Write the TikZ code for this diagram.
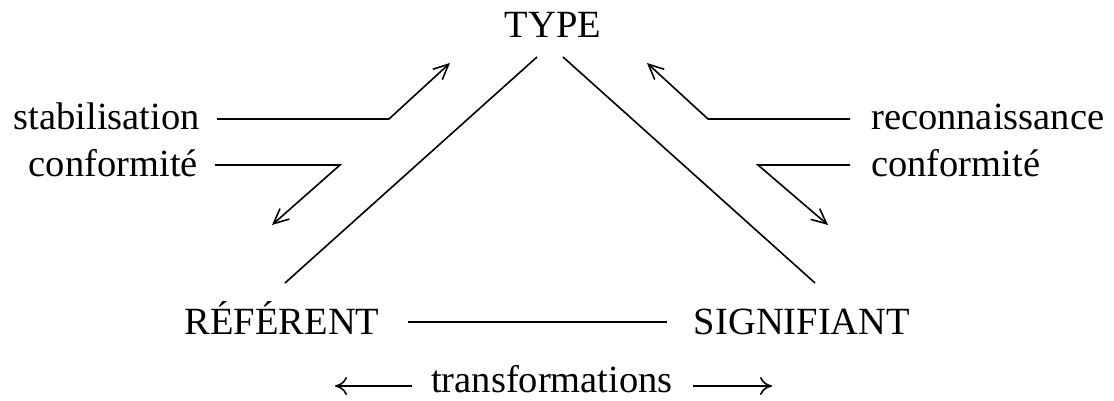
\documentclass[tikz,border=0pt]{standalone}
\usepackage{fontspec}
\setmainfont{Liberation Serif}
\usetikzlibrary{arrows.meta}
\begin{document}
\begin{tikzpicture}[x=1pt,y=1pt,
  lbl/.style={inner sep=0pt, font=\fontsize{38.5}{46}\selectfont},
  edge/.style={line width=1.6pt},
  arr/.style={line width=1.6pt, -{Straight Barb[length=15pt,width=14pt,line width=1.6pt]}},
  tarr/.style={line width=1.6pt, -{Computer Modern Rightarrow[length=12pt,width=18pt,line width=1.6pt]}}]
\useasboundingbox (0,0) rectangle (1114,401);
% main labels
\node[lbl, anchor=base] (type) at (553,363) {TYPE};
\node[lbl, anchor=base] (ref) at (282,66) {RÉFÉRENT};
\node[lbl, anchor=base] (sig) at (802,66) {SIGNIFIANT};
\node[lbl, anchor=base east] (stab) at (200,271) {stabilisation};
\node[lbl, anchor=base east] (confl) at (198,224) {conformité};
\node[lbl, anchor=base west] (reco) at (871,271) {reconnaissance};
\node[lbl, anchor=base west] (confr) at (871,224) {conformité};
\node[lbl, anchor=base] (trans) at (552,8) {transformations};
% triangle
\coordinate (tl) at (537,344);
\coordinate (tr) at (563,344);
\coordinate (rl) at (285,118);
\coordinate (sr) at (815,118);
\coordinate (rb) at (408,79);
\coordinate (sb) at (667,79);
\draw[edge] (rl) -- (tl);
\draw[edge] (tr) -- (sr);
\draw[edge] (rb) -- (sb);
% side arrows
\coordinate (s1) at (217,282);
\coordinate (s2) at (389,282);
\coordinate (s3) at (450,338);
\draw[arr] (s1) -- (s2) -- (s3);
\coordinate (c1) at (215,236);
\coordinate (c2) at (340,236);
\coordinate (c3) at (272,176);
\draw[arr] (c1) -- (c2) -- (c3);
\coordinate (r1) at (850,282);
\coordinate (r2) at (708,282);
\coordinate (r3) at (647,338);
\draw[arr] (r1) -- (r2) -- (r3);
\coordinate (d1) at (850,236);
\coordinate (d2) at (758,236);
\coordinate (d3) at (828,176);
\draw[arr] (d1) -- (d2) -- (d3);
% transformations arrows
\coordinate (ta) at (412,15);
\coordinate (tb) at (335,15);
\coordinate (tc) at (693,15);
\coordinate (td) at (772,15);
\draw[tarr] (ta) -- (tb);
\draw[tarr] (tc) -- (td);
\end{tikzpicture}
\end{document}
